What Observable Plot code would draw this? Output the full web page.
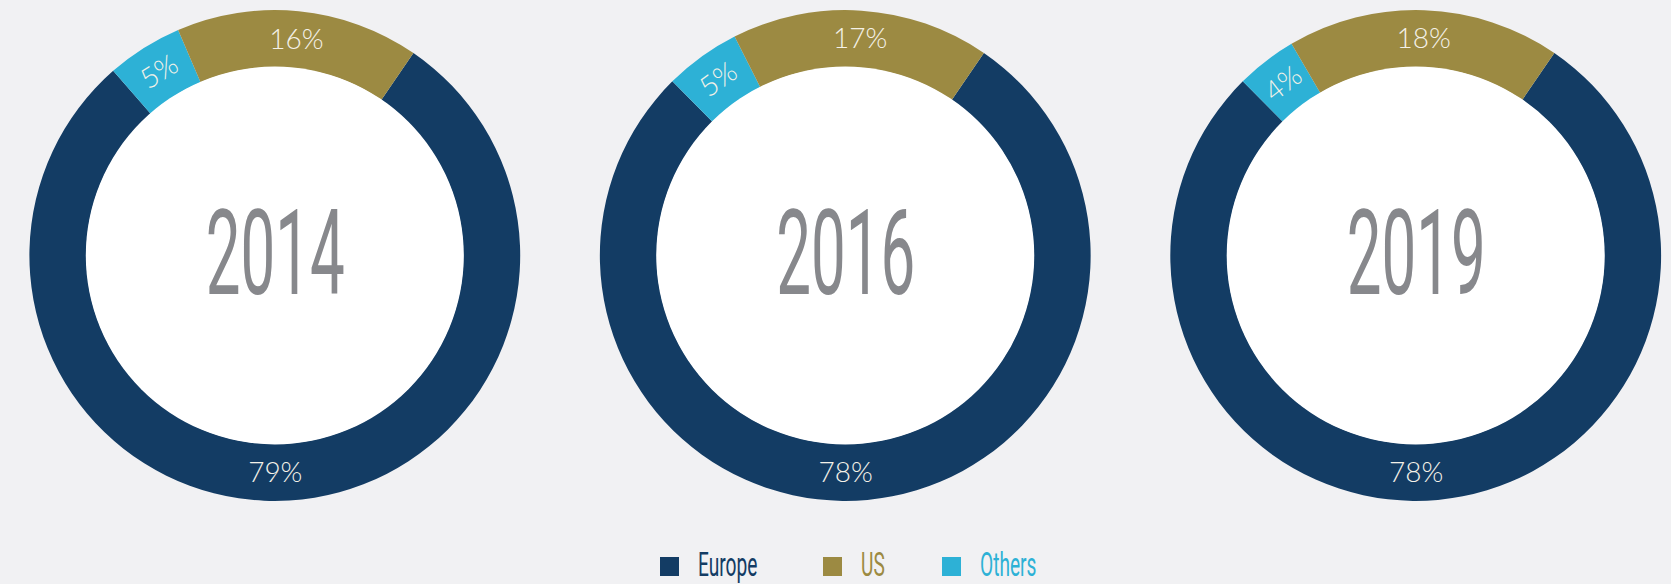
<!DOCTYPE html>
<html>
<head>
<meta charset="utf-8">
<script src="https://cdn.jsdelivr.net/npm/d3@7"></script>
<script src="https://cdn.jsdelivr.net/npm/@observablehq/plot@0.6"></script>
<style>
  html, body { margin: 0; padding: 0; background: #f1f1f3; }
  #chart { width: 1671px; }
  .legend { display: flex; justify-content: center; align-items: center; height: 44px; padding-top: 4px; padding-left: 25px; width: 1646px; font-family: Roboto, "Open Sans", sans-serif; }
  .legend .item { display: flex; align-items: center; margin: 0 33px; }
  .legend .item:last-child { margin-left: 24px; }
  .legend .sw { display: inline-block; width: 19px; height: 19px; }
  .legend .lab { display: inline-block; margin-left: 19px; font-size: 33px; line-height: 33px; transform: scaleX(0.58); transform-origin: 0 50%; position: relative; top: -2px; }
</style>
</head>
<body>
<div id="chart"></div>
<script>
// ---------- data ----------
const years = ["2014", "2016", "2019"];
const categories = ["Europe", "US", "Others"];
const europeShare = [79, 78, 78];
const usShare = [16, 17, 18];
const othersShare = [5, 5, 4];
const categoryColors = ["#133c64", "#9c8a42", "#2db1d6"];

// ---------- layout ----------
const W = 1671, H = 540;
const R = 245.4, R_IN = 189;          // px radii
const CX0 = 274.8, GAP = 570.45, CY = 255.5;
const START = 34.4 * Math.PI / 180;   // Europe starts here, then Others, then US (clockwise)
const shares = {Europe: europeShare, US: usShare, Others: othersShare};
const drawOrder = ["Europe", "Others", "US"];

const slices = [];
years.forEach((year, i) => {
  const pie = d3.pie().sort(null).value(d => d.value)
    .startAngle(START).endAngle(START + 2 * Math.PI);
  const arcs = pie(drawOrder.map(c => ({category: c, value: shares[c][i]})));
  const cx = (i * GAP) / R;
  const rMid = (R + R_IN) / 2 / R;
  arcs.forEach(a => {
    const mid = (a.startAngle + a.endAngle) / 2;
    const la = a.data.category === "Europe" ? Math.PI : mid;
    let rot = mid * 180 / Math.PI;
    while (rot > 180) rot -= 360;
    slices.push({
      year, cx, category: a.data.category, value: a.data.value,
      startAngle: a.startAngle, endAngle: a.endAngle,
      lx: cx + rMid * Math.sin(la), ly: rMid * Math.cos(la),
      rotate: a.data.category === "Others" ? rot : 0
    });
  });
});
const centers = years.map((year, i) => ({year, cx: (i * GAP) / R}));
const colorOf = new Map(categories.map((c, i) => [c, categoryColors[i]]));

function rings(index, scales) {
  const g = d3.create("svg:g");
  const k = scales.x(1) - scales.x(0);
  const arc = d3.arc();
  for (const s of slices) {
    g.append("path")
      .attr("transform", `translate(${scales.x(s.cx)},${scales.y(0)})`)
      .attr("d", arc({innerRadius: (R_IN / R) * k - 0.5, outerRadius: k, startAngle: s.startAngle, endAngle: s.endAngle}))
      .attr("fill", scales.color ? scales.color(s.category) : colorOf.get(s.category));
  }
  for (const c of centers) {
    g.append("circle")
      .attr("cx", scales.x(c.cx)).attr("cy", scales.y(0))
      .attr("r", (R_IN / R) * k).attr("fill", "#ffffff");
  }
  return g.node();
}

const chart = Plot.plot({
  width: W, height: H,
  marginLeft: 0, marginRight: 0, marginTop: 0, marginBottom: 0,
  x: {domain: [-CX0 / R, (W - CX0) / R], axis: null},
  y: {domain: [-(H - CY) / R, CY / R], axis: null},
  color: {domain: categories, range: categoryColors},
  style: {background: "transparent"},
  marks: [
    rings,
    Plot.text(slices, {
      x: "lx", y: "ly", text: d => d.value + "%", rotate: "rotate",
      fill: "#f4f1e8", fontSize: 28, fontFamily: "Lato", fontWeight: 300
    }),
    Plot.text(centers, {
      x: "cx", y: () => 0, text: "year", fill: "#87888c",
      fontSize: 119, fontFamily: "Roboto", fontWeight: 400, className: "year-label"
    })
  ]
});
document.getElementById("chart").appendChild(chart);

// condensed look for the year labels
chart.querySelectorAll(".year-label text").forEach(t => {
  const tr = t.getAttribute("transform");
  if (tr) t.setAttribute("transform", tr + " scale(0.52,1)");
});

// legend
const legend = d3.select("body").append("div").attr("class", "legend");
categories.forEach((c, i) => {
  const item = legend.append("div").attr("class", "item");
  item.append("span").attr("class", "sw").style("background", categoryColors[i]);
  item.append("span").attr("class", "lab").style("color", categoryColors[i]).text(c);
});
legend.selectAll(".lab").each(function () {
  const w = this.offsetWidth;
  this.style.marginRight = (-(1 - 0.58) * w) + "px";
});
</script>
</body>
</html>
